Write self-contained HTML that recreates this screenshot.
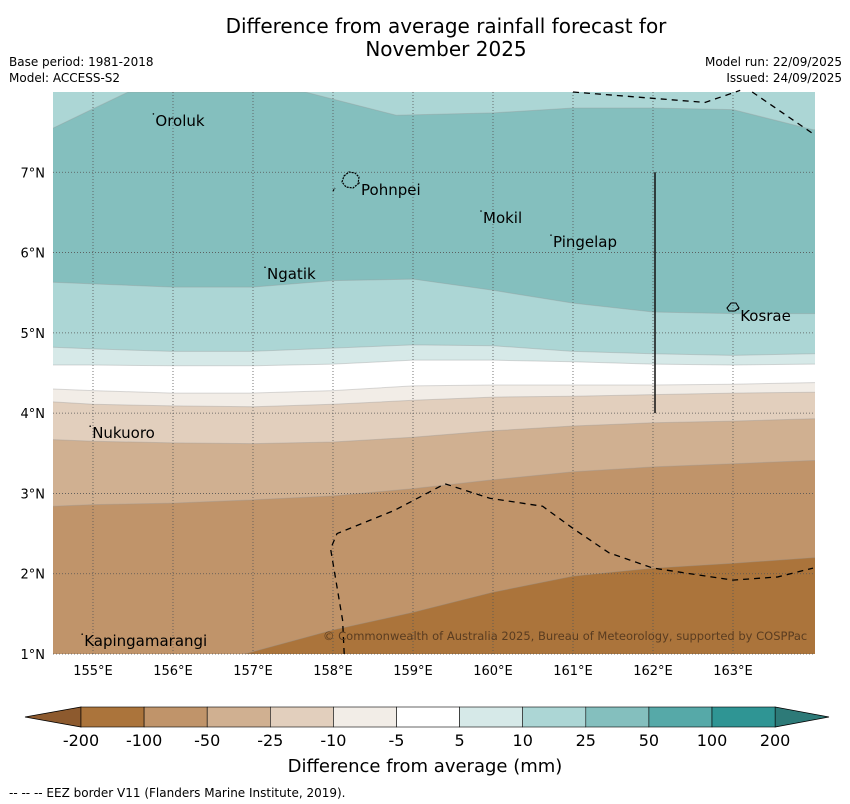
<!DOCTYPE html>
<html><head><meta charset="utf-8">
<style>
body{margin:0;background:#fff;}
svg{display:block;font-family:"DejaVu Sans","Liberation Sans",sans-serif;}
</style></head>
<body>
<svg id="chart" width="850" height="804" viewBox="0 0 850 804">
<text x="446" y="33" font-size="20" text-anchor="middle">Difference from average rainfall forecast for</text>
<text x="446" y="56" font-size="20" text-anchor="middle">November 2025</text>
<text x="9" y="66" font-size="12">Base period: 1981-2018</text>
<text x="9" y="82" font-size="12">Model: ACCESS-S2</text>
<text x="842" y="66" font-size="12" text-anchor="end">Model run: 22/09/2025</text>
<text x="842" y="82" font-size="12" text-anchor="end">Issued: 24/09/2025</text>
<defs><clipPath id="mapclip"><rect x="53" y="92" width="762" height="562"/></clipPath></defs>
<g id="map" clip-path="url(#mapclip)"></g>
<g id="overlay"></g>
<g id="cbar"></g>
<text x="425" y="772" font-size="18" text-anchor="middle">Difference from average (mm)</text>
<text x="9" y="797" font-size="12">--  --  -- EEZ border V11 (Flanders Marine Institute, 2019).</text>
</svg>
<script>
const lons = [154.5,155,156,157,158,159,160,161,162,163,164];
const bound_m100_m200 = [0.35,0.49,0.76,1.03,1.30,1.52,1.77,1.97,2.07,2.13,2.20];
const bound_m50_m100 = [2.84,2.86,2.88,2.92,2.97,3.06,3.17,3.27,3.33,3.37,3.41];
const bound_m25_m50 = [3.67,3.65,3.63,3.62,3.64,3.70,3.78,3.84,3.88,3.90,3.93];
const bound_m10_m25 = [4.14,4.11,4.09,4.08,4.11,4.16,4.20,4.21,4.23,4.25,4.26];
const bound_m5_m10 = [4.30,4.28,4.25,4.25,4.28,4.34,4.35,4.35,4.35,4.36,4.38];
const bound_5_m5 = [4.60,4.60,4.59,4.59,4.61,4.66,4.66,4.64,4.61,4.60,4.61];
const bound_10_5 = [4.82,4.80,4.77,4.77,4.81,4.85,4.84,4.77,4.74,4.72,4.74];
const bound_25_10 = [5.63,5.61,5.57,5.57,5.65,5.67,5.53,5.37,5.26,5.24,5.24];
const topLons = [154.5,155,155.44,157.65,158.79,160,161,162,163,164];
const bound_top_10_25 = [7.55,7.79,8.0,8.0,7.71,7.74,7.8,7.8,7.78,7.53];
const levels = ["-200","-100","-50","-25","-10","-5","5","10","25","50","100","200"];
const colors = ["#ab743b","#c0946a","#d0b091","#e2cfbd","#f2ede7","#ffffff","#d6e9e8","#acd6d5","#84bfbe","#56a9a8","#2f9594"];
const lonTicks = [155,156,157,158,159,160,161,162,163];
const latTicks = [1,2,3,4,5,6,7];
const places = [["Oroluk",155.78,7.64],["Pohnpei",158.35,6.78],["Mokil",159.875,6.43],["Pingelap",160.75,6.13],["Ngatik",157.175,5.73],["Kosrae",163.09,5.21],["Nukuoro",154.99,3.75],["Kapingamarangi",154.89,1.16]];
const eezBottom = [[158.14,1.0],[158.12,1.42],[157.97,2.31],[158.05,2.5],[158.15,2.54],[158.77,2.79],[159.4,3.12],[159.96,2.94],[160.62,2.84],[161.02,2.55],[161.45,2.26],[162.0,2.07],[163.0,1.92],[163.56,1.96],[164.0,2.07]];
const eezTop1 = [[161.0,8.0],[162.65,7.87],[163.09,8.02]];
const eezTop2 = [[163.24,8.0],[164.03,7.46]];

const X0=53,Y0=92,W=762,H=562,LON0=154.5,LON1=164.025,LAT0=1,LAT1=8;
const sx=l=>X0+(l-LON0)/(LON1-LON0)*W;
const sy=l=>Y0+(LAT1-l)/(LAT1-LAT0)*H;
const NS="http://www.w3.org/2000/svg";
function mk(tag,attrs,parent){const e=document.createElementNS(NS,tag);for(const k in attrs)e.setAttribute(k,attrs[k]);parent.appendChild(e);return e;}
const map=document.getElementById('map'), ov=document.getElementById('overlay'), cb=document.getElementById('cbar');

let bg=mk('rect',{x:X0,y:Y0,width:W,height:H,fill:colors[0]},map);


function above(ls,lats,color,name){
  let d='M'+sx(ls[0]-0.5)+','+(Y0-10)+' L'+sx(ls[0]-0.5)+','+sy(lats[0]);
  ls.forEach((l,i)=>{d+=' L'+sx(l)+','+sy(lats[i]);});
  d+=' L'+sx(ls[ls.length-1]+0.5)+','+sy(lats[lats.length-1])+' L'+sx(ls[ls.length-1]+0.5)+','+(Y0-10)+'Z';
  const p=mk('path',{d:d,fill:color,stroke:'rgba(150,150,150,0.35)','stroke-width':1},map);
  
  
}
above(lons,bound_m100_m200,colors[1],'band-minus-100');
above(lons,bound_m50_m100,colors[2],'band-minus-50');
above(lons,bound_m25_m50,colors[3],'band-minus-25');
above(lons,bound_m10_m25,colors[4],'band-minus-10');
above(lons,bound_m5_m10,colors[5],'band-near-average');
above(lons,bound_5_m5,colors[6],'band-plus-5');
above(lons,bound_10_5,colors[7],'band-plus-10');
above(lons,bound_25_10,colors[8],'band-plus-25');
above(topLons,bound_top_10_25,colors[7],'band-plus-10-top');

lonTicks.forEach(l=>{
  const g=mk('line',{x1:sx(l),x2:sx(l),y1:Y0,y2:Y0+H,stroke:'#555','stroke-width':0.8,'stroke-dasharray':'1,2'},ov);
  
  
  const t=mk('text',{x:sx(l),y:675,'font-size':13,'text-anchor':'middle'},ov);t.textContent=l+'°E';
  
  
});
latTicks.forEach(l=>{
  const g=mk('line',{x1:X0,x2:X0+W,y1:sy(l),y2:sy(l),stroke:'#555','stroke-width':0.8,'stroke-dasharray':'1,2'},ov);
  
  
  const t=mk('text',{x:45,y:sy(l)+5,'font-size':13,'text-anchor':'end'},ov);t.textContent=l+'°N';
  
  
});
function dline(pts,name){
  const p=mk('polyline',{points:pts.map(q=>sx(q[0])+','+sy(q[1])).join(' '),fill:'none',stroke:'#000','stroke-width':1.3,'stroke-dasharray':'6,5'},ov);
  
  
}
dline(eezBottom,'eez-border-south');dline(eezTop1,'eez-border-north');dline(eezTop2,'eez-border-northeast');
let vl=mk('line',{x1:655,x2:655,y1:sy(7),y2:sy(4),stroke:'#111','stroke-width':1.5},ov);


let isl=mk('path',{d:'M344,176 L349,172 L355,173 L359,177 L358,184 L353,188 L346,187 L342,182 Z M333,191 L335,188',fill:'none',stroke:'#000','stroke-width':1.2,'stroke-dasharray':'2,1'},ov);


let kos=mk('path',{d:'M727,308 L731,303 L736,303 L739,308 L735,311 L729,311 Z',fill:'none',stroke:'#000','stroke-width':1.1},ov);


places.forEach(p=>{
  const t=mk('text',{x:sx(p[1]),y:sy(p[2])+5,'font-size':15},ov);t.textContent=p[0];
  
  
  const d=mk('circle',{cx:sx(p[1])-2,cy:sy(p[2])-7,r:0.8,fill:'#000'},ov);
  
  
});
let cp=mk('text',{x:323,y:640,'font-size':11.5,fill:'#5a3c20'},ov);cp.textContent='© Commonwealth of Australia 2025, Bureau of Meteorology, supported by COSPPac';



const CB0=81,CBW=63.1,CBY=707,CBH=20;
let lt=mk('path',{d:`M25,${CBY+CBH/2} L${CB0},${CBY} L${CB0},${CBY+CBH} Z`,fill:'#8d5a2e',stroke:'#000','stroke-width':0.8},cb);


let rt=mk('path',{d:`M${CB0+CBW*11},${CBY} L829,${CBY+CBH/2} L${CB0+CBW*11},${CBY+CBH} Z`,fill:'#2d7a78',stroke:'#000','stroke-width':0.8},cb);


colors.forEach((c,i)=>{
  const r=mk('rect',{x:CB0+i*CBW,y:CBY,width:CBW,height:CBH,fill:c,stroke:'#000','stroke-width':0.6},cb);
  
  
});
levels.forEach((s,i)=>{
  const t=mk('text',{x:CB0+i*CBW,y:746,'font-size':16,'text-anchor':'middle'},cb);t.textContent=s;
  
  
});
</script>
</body></html>
